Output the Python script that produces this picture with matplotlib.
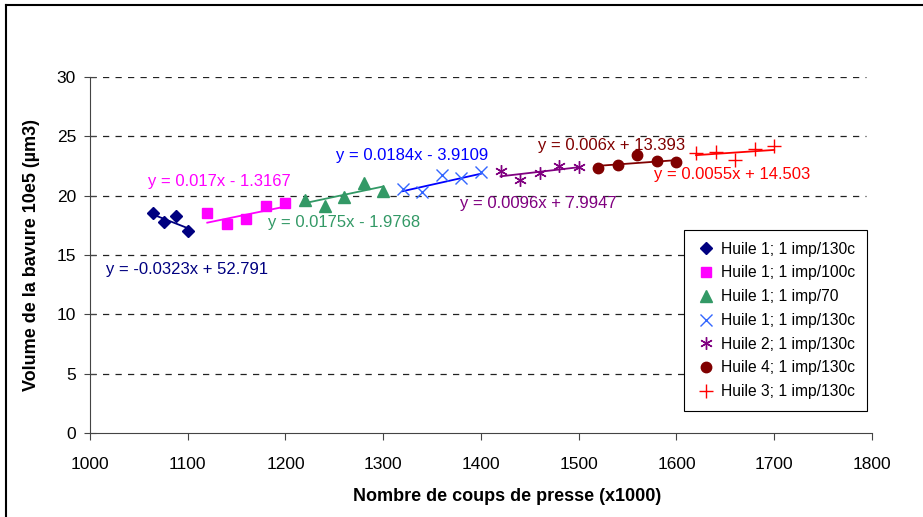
import matplotlib
matplotlib.use('Agg')
import matplotlib.pyplot as plt
from matplotlib.lines import Line2D
import numpy as np

plt.rcParams['font.family'] = ['Liberation Sans', 'DejaVu Sans']

# data
labels = ['Huile 1; 1 imp/130c', 'Huile 1; 1 imp/100c', 'Huile 1; 1 imp/70',
          'Huile 1; 1 imp/130c', 'Huile 2; 1 imp/130c', 'Huile 4; 1 imp/130c',
          'Huile 3; 1 imp/130c']
x_vals = [
    [1064, 1076, 1088, 1100],
    [1120, 1140, 1160, 1180, 1200],
    [1220, 1240, 1260, 1280, 1300],
    [1320, 1340, 1360, 1380, 1400],
    [1420, 1440, 1460, 1480, 1500],
    [1520, 1540, 1560, 1580, 1600],
    [1620, 1640, 1660, 1680, 1700],
]
y_vals = [
    [18.5, 17.8, 18.3, 17.0],
    [18.5, 17.6, 18.0, 19.1, 19.4],
    [19.6, 19.1, 19.9, 21.1, 20.4],
    [20.6, 20.3, 21.7, 21.5, 22.0],
    [22.1, 21.3, 21.9, 22.5, 22.4],
    [22.35, 22.6, 23.4, 22.9, 22.8],
    [23.6, 23.7, 23.0, 23.9, 24.2],
]
# trendline equations shown on the chart
slopes = [-0.0323, 0.017, 0.0175, 0.0184, 0.0096, 0.006, 0.0055]
intercepts = [52.791, -1.3167, -1.9768, -3.9109, 7.9947, 13.393, 14.503]
eq_texts = ['y = -0.0323x + 52.791', 'y = 0.017x - 1.3167', 'y = 0.0175x - 1.9768',
            'y = 0.0184x - 3.9109', 'y = 0.0096x + 7.9947', 'y = 0.006x + 13.393',
            'y = 0.0055x + 14.503']
eq_pos = [(1016, 13.8), (1059, 21.2), (1182, 17.7), (1252, 23.4),
          (1379, 19.3), (1458, 24.2), (1577, 21.8)]

markers = ['D', 's', '^', 'x', (6, 2, 0), 'o', '+']
msizes = [6, 7, 8, 9, 9, 7.5, 10]
mcolors = ['#000080', '#FF00FF', '#339966', '#3366FF', '#800080', '#800000', '#FF0000']
lcolors = ['#000080', '#FF00FF', '#339966', '#0000FF', '#800080', '#800000', '#FF0000']

fig = plt.figure(figsize=(9.23, 5.17), dpi=100)
ax = fig.add_axes([0.0975, 0.1625, 0.8472, 0.6886])

for i in range(len(labels)):
    xs = np.array(x_vals[i])
    ax.plot(xs, y_vals[i], linestyle='none', marker=markers[i], markersize=msizes[i],
            color=mcolors[i], markeredgecolor=mcolors[i], markeredgewidth=1.0,
            label=labels[i], zorder=3)
    xl = np.array([xs.min(), xs.max()])
    ax.plot(xl, slopes[i] * xl + intercepts[i], color=lcolors[i], lw=1.3, zorder=2)
    ax.text(eq_pos[i][0], eq_pos[i][1], eq_texts[i], color=lcolors[i],
            fontsize=12, va='center', ha='left')

ax.set_xlim(1000, 1800)
ax.set_ylim(0, 30)
ax.set_xticks(np.arange(1000, 1801, 100))
ax.set_yticks(np.arange(0, 31, 5))
for y in range(5, 31, 5):
    ax.plot([1000, 1794], [y, y], color='#222222', lw=0.9, dashes=(5, 5), zorder=1)

for s in ['top', 'right']:
    ax.spines[s].set_visible(False)
for s in ['left', 'bottom']:
    ax.spines[s].set_color('#444444')
ax.tick_params(axis='x', direction='out', length=5, labelsize=12.5, pad=12, color='#444444')
ax.tick_params(axis='y', direction='inout', length=8, labelsize=12.5, pad=6, color='#444444')

ax.set_xlabel('Nombre de coups de presse (x1000)', fontsize=13, fontweight='bold')
ax.xaxis.set_label_coords(0.534, -0.155)
ax.set_ylabel('Volume de la bavure 10e5 (µm3)', fontsize=13, fontweight='bold', labelpad=12)

leg = ax.legend(loc='upper right', bbox_to_anchor=(0.9393, 0.5551),
                bbox_transform=fig.transFigure, fancybox=False, edgecolor='black',
                fontsize=11.25, handlelength=1.3, handletextpad=0.3, labelspacing=0.56,
                borderpad=0.75, borderaxespad=0, framealpha=1)
leg.get_frame().set_linewidth(0.8)

# outer chart border (left and top edges visible)
fig.add_artist(Line2D([5.5 / 923, 5.5 / 923], [0, 1 - 4.5 / 517], transform=fig.transFigure,
                      color='black', lw=1.5))
fig.add_artist(Line2D([5.5 / 923, 1], [1 - 4.5 / 517, 1 - 4.5 / 517], transform=fig.transFigure,
                      color='black', lw=1.5))

fig.savefig('out.png', dpi=100)
